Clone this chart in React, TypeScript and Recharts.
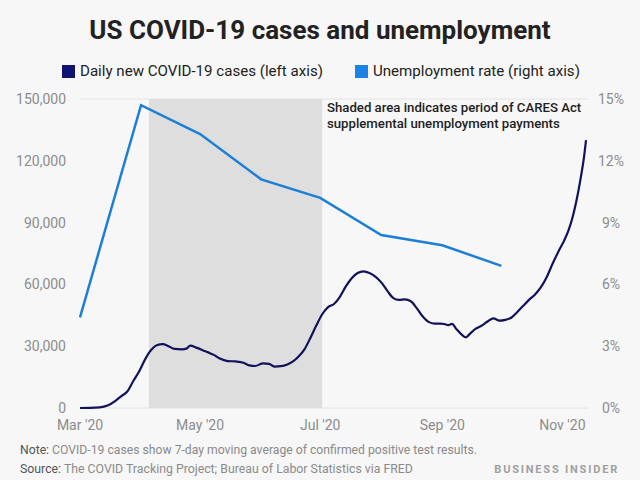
import React from 'react';
import { ComposedChart, Line, XAxis, YAxis, CartesianGrid, ReferenceArea } from 'recharts';

// daily new cases, 7-day average
const caseDates = [
  '3/1', '3/6', '3/11', '3/15', '3/19', '3/22', '3/25', '3/28', '3/31', '4/3',
  '4/6', '4/9', '4/12', '4/15', '4/18', '4/22', '4/24', '4/26', '4/29', '5/2',
  '5/5', '5/8', '5/11', '5/15', '5/19', '5/23', '5/26', '5/29', '6/2', '6/5',
  '6/8', '6/11', '6/14', '6/17', '6/20', '6/23', '6/26', '6/29', '7/2', '7/5',
  '7/8', '7/11', '7/14', '7/17', '7/20', '7/23', '7/26', '7/29', '8/1', '8/4',
  '8/7', '8/10', '8/13', '8/16', '8/19', '8/22', '8/25', '8/28', '8/31', '9/2',
  '9/4', '9/6', '9/8', '9/11', '9/13', '9/15', '9/18', '9/21', '9/24', '9/27',
  '9/30', '10/3', '10/6', '10/9', '10/12', '10/15', '10/18', '10/21', '10/24', '10/27',
  '10/30', '11/2', '11/4', '11/6', '11/8', '11/10', '11/12', '11/13'
];
const caseValues = [
  0, 50, 300, 1200, 3500, 5800, 8000, 13000, 17700, 23500,
  28000, 30500, 31000, 30000, 28700, 28500, 28800, 30300, 29300, 28200,
  27000, 25800, 24000, 22800, 22600, 22000, 20700, 20400, 21700, 21400,
  20100, 20300, 21000, 22500, 25000, 28500, 34000, 40000, 45500, 49000,
  50500, 54000, 59000, 63000, 65500, 66300, 65500, 63800, 61000, 57000,
  53500, 52500, 52700, 51800, 48500, 44500, 41800, 41000, 41000, 40800,
  40200, 40800, 38500, 35500, 34300, 36000, 38500, 40000, 42000, 43500,
  42400, 42800, 43800, 46500, 49500, 52500, 55000, 58500, 63500, 70000,
  76000, 81500, 86000, 92000, 100000, 110000, 122000, 130000
];

// monthly unemployment rate, %
const rateDates = ['3/1', '4/1', '5/1', '6/1', '7/1', '8/1', '9/1', '10/1'];
const rateValues = [4.4, 14.7, 13.3, 11.1, 10.2, 8.4, 7.9, 6.9];

const xTickDates = ['3/1', '5/1', '7/1', '9/1', '11/1'];
const xTickLabels = ["Mar '20", "May '20", "Jul '20", "Sep '20", "Nov '20"];
const leftTicks = [0, 30000, 60000, 90000, 120000, 150000];
const rightTicks = [0, 3, 6, 9, 12, 15];

const shadeStart = '4/5';
const shadeEnd = '7/2';
const lastDay = '11/14';

// days since Mar 1 2020
const toDay = (s: string) => {
  const [m, d] = s.split('/').map(Number);
  return Math.round((Date.UTC(2020, m - 1, d) - Date.UTC(2020, 2, 1)) / 864e5);
};

const caseData = caseDates.map((d, i) => ({ day: toDay(d), cases: caseValues[i] }));
const rateData = rateDates.map((d, i) => ({ day: toDay(d), rate: rateValues[i] }));
const xTicks = xTickDates.map(toDay);

const NAVY = '#12125c';
const BLUE = '#1c7fd6';
const GREY = '#8c8c8c';

const RightTick = ({ x, y, payload }: any) => (
  <text x={x} y={y} dy={5} textAnchor="middle" fill={GREY} fontSize={14} fontFamily="Roboto">
    {payload.value}%
  </text>
);

const noteStyle: React.CSSProperties = {
  position: 'absolute', left: 327, fontSize: 13.2, fontWeight: 500, lineHeight: '15px', color: '#222', whiteSpace: 'nowrap'
};

export default function App() {
  return (
    <div style={{
      position: 'fixed', top: 0, left: 0, width: 640, height: 480,
      background: '#f7f7f7', fontFamily: 'Roboto, sans-serif', overflow: 'hidden'
    }}>
      <div style={{
        position: 'absolute', top: 12, left: 0, width: 640, textAlign: 'center',
        fontSize: 26, fontWeight: 700, color: '#222', lineHeight: '36px'
      }}>
        US COVID-19 cases and unemployment
      </div>

      {/* legend */}
      <div style={{ position: 'absolute', top: 62, left: 62, display: 'flex', alignItems: 'center', fontSize: 15.1, color: '#222', lineHeight: '18px' }}>
        <span style={{ width: 13, height: 13, background: '#0f1473', marginRight: 5 }} />
        <span>Daily new COVID-19 cases (left axis)</span>
        <span style={{ width: 13, height: 13, background: '#1a84e4', marginLeft: 32, marginRight: 5 }} />
        <span>Unemployment rate (right axis)</span>
      </div>

      <div style={{ position: 'absolute', top: 0, left: 0 }}>
        <ComposedChart width={640} height={480} margin={{ top: 99, right: 0, bottom: 42, left: 0 }}>
          <ReferenceArea
            yAxisId="left"
            x1={toDay(shadeStart)}
            x2={toDay(shadeEnd)}
            y1={0}
            y2={150000}
            fill="#dedede"
            fillOpacity={1}
            stroke="none"
          />
          <CartesianGrid vertical={false} stroke="#e4e4e4" />
          <XAxis
            dataKey="day"
            type="number"
            domain={[0, toDay(lastDay)]}
            ticks={xTicks}
            tickFormatter={(v) => xTickLabels[xTicks.indexOf(v)]}
            axisLine={false}
            tickLine={false}
            tickSize={0}
            tickMargin={12}
            height={30}
            tick={{ fill: GREY, fontSize: 14 }}
          />
          <YAxis
            yAxisId="left"
            domain={[0, 150000]}
            ticks={leftTicks}
            tickFormatter={(v) => v.toLocaleString('en-US')}
            axisLine={false}
            tickLine={false}
            tickSize={0}
            tickMargin={14}
            width={80}
            tick={{ fill: GREY, fontSize: 14 }}
          />
          <YAxis
            yAxisId="right"
            orientation="right"
            domain={[0, 15]}
            ticks={rightTicks}
            axisLine={false}
            tickLine={false}
            tickSize={0}
            tickMargin={23}
            width={52}
            tick={<RightTick />}
          />
          <Line
            yAxisId="right"
            data={rateData}
            dataKey="rate"
            type="linear"
            stroke={BLUE}
            strokeWidth={2.5}
            dot={false}
            isAnimationActive={false}
          />
          <Line
            yAxisId="left"
            data={caseData}
            dataKey="cases"
            type="monotone"
            stroke={NAVY}
            strokeWidth={2.2}
            dot={false}
            isAnimationActive={false}
          />
        </ComposedChart>
      </div>

      <div style={{ ...noteStyle, top: 100 }}>Shaded area indicates period of CARES Act</div>
      <div style={{ ...noteStyle, top: 115.5 }}>supplemental unemployment payments</div>

      <div style={{ position: 'absolute', top: 443, left: 20, fontSize: 12.2, color: '#8a8a8a', lineHeight: '15px' }}>
        <span style={{ color: '#555' }}>Note:</span> COVID-19 cases show 7-day moving average of confirmed positive test results.
      </div>
      <div style={{ position: 'absolute', top: 462, left: 20, fontSize: 12.3, color: '#8a8a8a', lineHeight: '15px' }}>
        <span style={{ color: '#555' }}>Source:</span> The COVID Tracking Project; Bureau of Labor Statistics via FRED
      </div>
      <div style={{
        position: 'absolute', top: 463, right: 21, fontSize: 11, fontWeight: 700, color: '#a0a0a0',
        letterSpacing: 1.8, lineHeight: '14px'
      }}>
        BUSINESS INSIDER
      </div>
    </div>
  );
}
